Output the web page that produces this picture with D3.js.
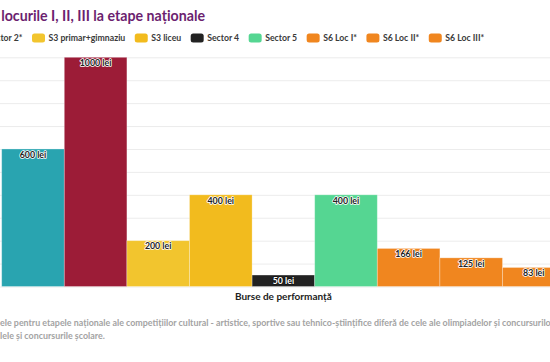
<!DOCTYPE html>
<html>
<head>
<meta charset="utf-8">
<script src="https://cdn.jsdelivr.net/npm/d3@7"></script>
<style>
  body { margin: 0; background: #fff; }
  svg { display: block; font-family: Lato, "Open Sans", sans-serif; }
</style>
</head>
<body>
<script>
// chart data
var categories = ["Sector 1", "Sector 2*", "S3 primar+gimnaziu", "S3 liceu", "Sector 4",
                  "Sector 5", "S6 Loc I*", "S6 Loc II*", "S6 Loc III*"];
var values = [600, 1000, 200, 400, 50, 400, 166, 125, 83];
var barLabels = ["600 lei", "1000 lei", "200 lei", "400 lei", "50 lei", "400 lei", "166 lei", "125 lei", "83 lei"];
var colors = ["#29a4b0", "#9c1c37", "#f2c52e", "#f2bb1e", "#222222", "#55d692", "#f0861f", "#f0861f", "#f0861f"];
var gridTicks = [0, 100, 200, 300, 400, 500, 600, 700, 800, 900, 1000];

var titleText = "Burse pentru locurile I, II, III la etape naționale";
var axisTitle = "Burse de performanță";
var note1 = "*Sumele pentru etapele naționale ale competițiilor cultural - artistice, sportive sau tehnico-științifice diferă de cele ale olimpiadelor și concursurilor";
var note1Hidden = "*Sum";
var note2 = "paralele și concursurile școlare.";
var note2Hidden = "para";

var width = 550, height = 362;

var svg = d3.select("body").append("svg")
    .attr("width", width)
    .attr("height", height);

// measure width of a text fragment with given styles
function measure(str, size, weight) {
    var t = svg.append("text")
        .attr("font-size", size)
        .attr("font-weight", weight)
        .text(str);
    var w = t.node().getComputedTextLength();
    t.remove();
    return w;
}

// title (left part falls outside the frame)
svg.append("text")
    .attr("x", 205)
    .attr("y", 21)
    .attr("text-anchor", "end")
    .attr("font-size", 14.2)
    .attr("font-weight", 700)
    .attr("fill", "#6c1f70")
    .text(titleText);

// legend
var legend = svg.append("g").attr("class", "legend");
var lx = 0, itemX = [];
categories.forEach(function(c, i) {
    itemX.push(lx);
    var g = legend.append("g").attr("transform", "translate(" + lx + ",0)");
    g.append("rect")
        .attr("x", 0).attr("y", -4.5)
        .attr("width", 13).attr("height", 9)
        .attr("rx", 2.5)
        .attr("fill", colors[i]);
    g.append("text")
        .attr("x", 16.5).attr("y", 3.1)
        .attr("font-size", 8.7)
        .attr("font-weight", 700)
        .attr("fill", "#3a3a3a")
        .text(c);
    lx += 16.5 + measure(c, 8.7, 700) + 9.5;
});
legend.attr("transform", "translate(" + (32 - itemX[2]) + ",38)");

// scales
var x = d3.scaleBand()
    .domain(categories)
    .range([1.7, 1.7 + 62.6 * categories.length])
    .paddingInner(0)
    .paddingOuter(0);

var y = d3.scaleLinear()
    .domain([0, 1000])
    .range([286.5, 57.3]);

// gridlines
svg.append("g").selectAll("line")
    .data(gridTicks)
    .enter().append("line")
    .attr("x1", 0).attr("x2", width)
    .attr("y1", function(d) { return y(d) + 0.5; })
    .attr("y2", function(d) { return y(d) + 0.5; })
    .attr("stroke", "#ececec")
    .attr("stroke-width", 1);

// bars
svg.append("g").selectAll("rect")
    .data(values)
    .enter().append("rect")
    .attr("x", function(d, i) { return x(categories[i]); })
    .attr("y", function(d) { return y(d); })
    .attr("width", x.bandwidth())
    .attr("height", function(d) { return y(0) - y(d); })
    .attr("fill", function(d, i) { return colors[i]; })
    .attr("stroke", "#ffffff")
    .attr("stroke-opacity", 0.35)
    .attr("stroke-width", 0.8);

// bar labels
svg.append("g").selectAll("text")
    .data(values)
    .enter().append("text")
    .attr("x", function(d, i) { return x(categories[i]) + x.bandwidth() / 2; })
    .attr("y", function(d) { return y(d) + 8.8; })
    .attr("text-anchor", "middle")
    .attr("font-size", 8.8)
    .attr("font-weight", 700)
    .attr("paint-order", "stroke")
    .attr("stroke-width", 1.6)
    .attr("stroke-linejoin", "round")
    .attr("fill", function(d, i) { return i === 4 ? "#ffffff" : "#222222"; })
    .attr("stroke", function(d, i) { return i === 4 ? "#111111" : "#ffffff"; })
    .text(function(d, i) { return barLabels[i]; });

// axis title
svg.append("text")
    .attr("x", (x.range()[0] + x.range()[1]) / 2)
    .attr("y", 300)
    .attr("text-anchor", "middle")
    .attr("font-size", 10)
    .attr("font-weight", 700)
    .attr("fill", "#222")
    .text(axisTitle);

// footnote
svg.append("text")
    .attr("x", -measure(note1Hidden, 8.9, 700))
    .attr("y", 326)
    .attr("font-size", 8.9)
    .attr("font-weight", 700)
    .attr("fill", "#a3a3a3")
    .text(note1);

svg.append("text")
    .attr("x", -measure(note2Hidden, 8.9, 700))
    .attr("y", 339)
    .attr("font-size", 8.9)
    .attr("font-weight", 700)
    .attr("fill", "#a3a3a3")
    .text(note2);
</script>
</body>
</html>
